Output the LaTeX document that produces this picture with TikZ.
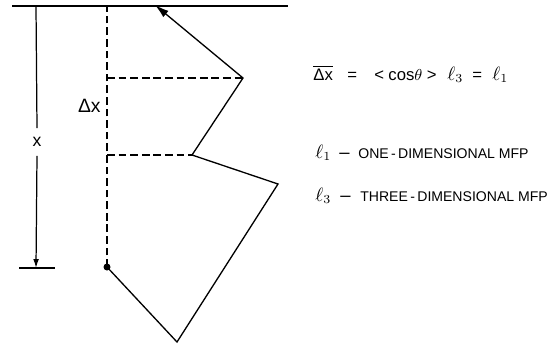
\documentclass[tikz,border=0pt]{standalone}
\usepackage{fontspec}
\setmainfont{Liberation Sans}
\usetikzlibrary{arrows.meta}

\begin{document}
\begin{tikzpicture}[x=0.02cm,y=-0.02cm,
  lbl/.style={inner sep=0pt,font=\fontsize{8}{9.6}\selectfont},
  eqlbl/.style={inner sep=0pt,anchor=base west,font=\fontsize{9.5}{11}\selectfont},
  symlbl/.style={inner sep=0pt,anchor=base west,font=\fontsize{10.5}{12}\selectfont},
  dashline/.style={dash pattern=on 4.4pt off 2.2pt,line width=0.7pt}]
\useasboundingbox (0,0) rectangle (554,345);
% surface and depth scale
\coordinate (s0) at (12,6);
\coordinate (s1) at (288,6);
\coordinate (xtop) at (36,6);
\coordinate (xbot) at (36,268);
\coordinate (t0) at (19,268);
\coordinate (t1) at (55,268);
\node[lbl,font=\fontsize{10}{12}\selectfont] (xlbl) at (37,142) {x};
\draw[line width=1.1pt] (s0) -- (s1);
\draw[line width=0.7pt] (xtop) -- ([yshift=5pt]xlbl.north);
\draw[line width=0.7pt,-{Latex[length=5pt,width=3.2pt]}] ([yshift=-5pt]xlbl.south) -- (xbot);
\draw[line width=0.8pt] (t0) -- (t1);
% random walk
\coordinate (p0) at (107,267);
\coordinate (p1) at (177,342);
\coordinate (p2) at (278,184);
\coordinate (p3) at (192,155);
\coordinate (p4) at (243,78);
\coordinate (p5) at (155,5);
\coordinate (v0) at (107,6);
\coordinate (h1) at (107,78);
\coordinate (h2) at (107,155);
\draw[dashline] (p0) -- (v0);
\draw[dashline] (h1) -- (p4);
\draw[dashline] (h2) -- (p3);
\draw[line width=0.75pt,-{Latex[length=8pt,width=4.6pt]}] (p0) -- (p1) -- (p2) -- (p3) -- (p4) -- (p5);
\fill (p0) circle (3.5);
\node[lbl,anchor=base east,font=\fontsize{11}{13}\selectfont] (dx) at (101,112) {Δx};
% mean step
\node[eqlbl] (eqdx) at (313,80) {$\overline{\mbox{Δx}}$};
\node[eqlbl] (eqa) at (347,80) {=};
\node[eqlbl] (eqcos) at (374,80) {<\hspace{2.5pt}cos$\theta$\hspace{2.5pt}>};
\node[symlbl] (eql3) at (447,80) {$\ell_3$};
\node[eqlbl] (eqb) at (472,80) {=};
\node[symlbl] (eql1) at (492,80) {$\ell_1$};
% legend
\node[symlbl] (l1sym) at (315,158) {$\ell_1$};
\node[symlbl] (l1dash) at (339,158) {\textendash};
\node[lbl,anchor=base west] (l1txt) at (358,158) {ONE\,-\,DIMENSIONAL MFP};
\node[symlbl] (l3sym) at (315,201) {$\ell_3$};
\node[symlbl] (l3dash) at (340,201) {\textendash};
\node[lbl,anchor=base west] (l3txt) at (360,201) {THREE\,-\,DIMENSIONAL MFP};
\end{tikzpicture}
\end{document}
